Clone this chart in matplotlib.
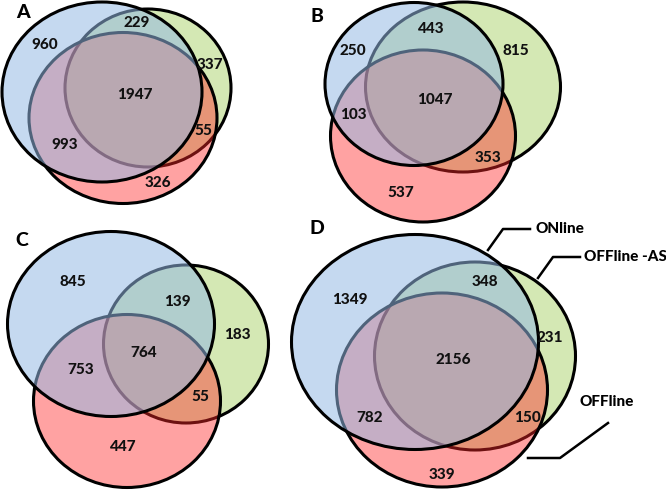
import matplotlib.pyplot as plt
from matplotlib.patches import Ellipse

# Conteos por region: solo azul, azul+verde, solo verde, los tres, azul+rojo, verde+rojo, solo rojo
PANELES = ['A', 'B', 'C', 'D']
conteos_A = [960, 229, 337, 1947, 993, 55, 326]
conteos_B = [250, 443, 815, 1047, 103, 353, 537]
conteos_C = [845, 139, 183, 764, 753, 55, 447]
conteos_D = [1349, 348, 231, 2156, 782, 150, 339]
conjuntos = ['ONline', 'OFFline -AS', 'OFFline']

# Layout en pixeles (x, y, ancho, alto) de cada elipse: verde, rojo, azul
elipses = {
    'A': {'verde': (148, 88, 166, 158), 'rojo': (123, 118, 188, 171), 'azul': (102, 92, 200, 180)},
    'B': {'verde': (463, 87, 195, 170), 'rojo': (423, 136, 185, 172), 'azul': (414, 84, 178, 163)},
    'C': {'verde': (186, 344, 165, 158), 'rojo': (127, 401, 187, 173), 'azul': (111, 324, 207, 185)},
    'D': {'verde': (475, 356, 201, 188), 'rojo': (442, 390, 211, 194), 'azul': (415, 342, 247, 215)},
}
pos_numeros = {
    'A': [(45, 45), (137, 23), (210, 65), (135, 95), (65, 145), (203, 131), (158, 183)],
    'B': [(353, 51), (431, 29), (516, 51), (435, 100), (353, 115), (488, 158), (401, 193)],
    'C': [(73, 282), (177, 302), (237, 335), (144, 353), (81, 370), (200, 397), (123, 447)],
    'D': [(350, 300), (485, 282), (550, 338), (453, 360), (370, 418), (527, 418), (442, 475)],
}
pos_letras = {'A': (23, 12), 'B': (317, 17), 'C': (22, 240), 'D': (317, 228)}
colores = {
    'verde': (212 / 255, 232 / 255, 180 / 255, 1.0),
    'rojo': (1.0, 40 / 255, 40 / 255, 0.43),
    'azul': (148 / 255, 185 / 255, 228 / 255, 0.54),
}

plt.rcParams['font.family'] = ['Lato', 'DejaVu Sans']

fig = plt.figure(figsize=(6.66, 4.95), dpi=100)
ax = fig.add_axes([0, 0, 1, 1])
ax.set_xlim(0, 666)
ax.set_ylim(495, 0)
ax.axis('off')

datos = {'A': conteos_A, 'B': conteos_B, 'C': conteos_C, 'D': conteos_D}
for panel in PANELES:
    for nombre in ['verde', 'rojo', 'azul']:
        x, y, w, h = elipses[panel][nombre]
        ax.add_patch(Ellipse((x, y), w, h, facecolor=colores[nombre],
                             edgecolor='black', linewidth=2.2))
    for valor, (x, y) in zip(datos[panel], pos_numeros[panel]):
        ax.text(x, y, str(valor), ha='center', va='center', fontsize=11,
                fontweight='black', color='#111111')
    lx, ly = pos_letras[panel]
    ax.text(lx, ly, panel, ha='center', va='center', fontsize=14, fontweight='black')

# Etiquetas de los conjuntos en el panel D
lineas = [[(488, 250), (503, 229), (530, 229)],
          [(538, 278), (553, 257), (580, 257)],
          [(528, 458), (560, 458), (608, 423)]]
pos_etiquetas = [(535, 229), (584, 257), (580, 402)]
for nombre, linea, (tx, ty) in zip(conjuntos, lineas, pos_etiquetas):
    xs, ys = zip(*linea)
    ax.plot(xs, ys, color='black', linewidth=1.8)
    ax.text(tx, ty, nombre, ha='left', va='center', fontsize=11, fontweight='black')

plt.savefig('out.png', dpi=100)
